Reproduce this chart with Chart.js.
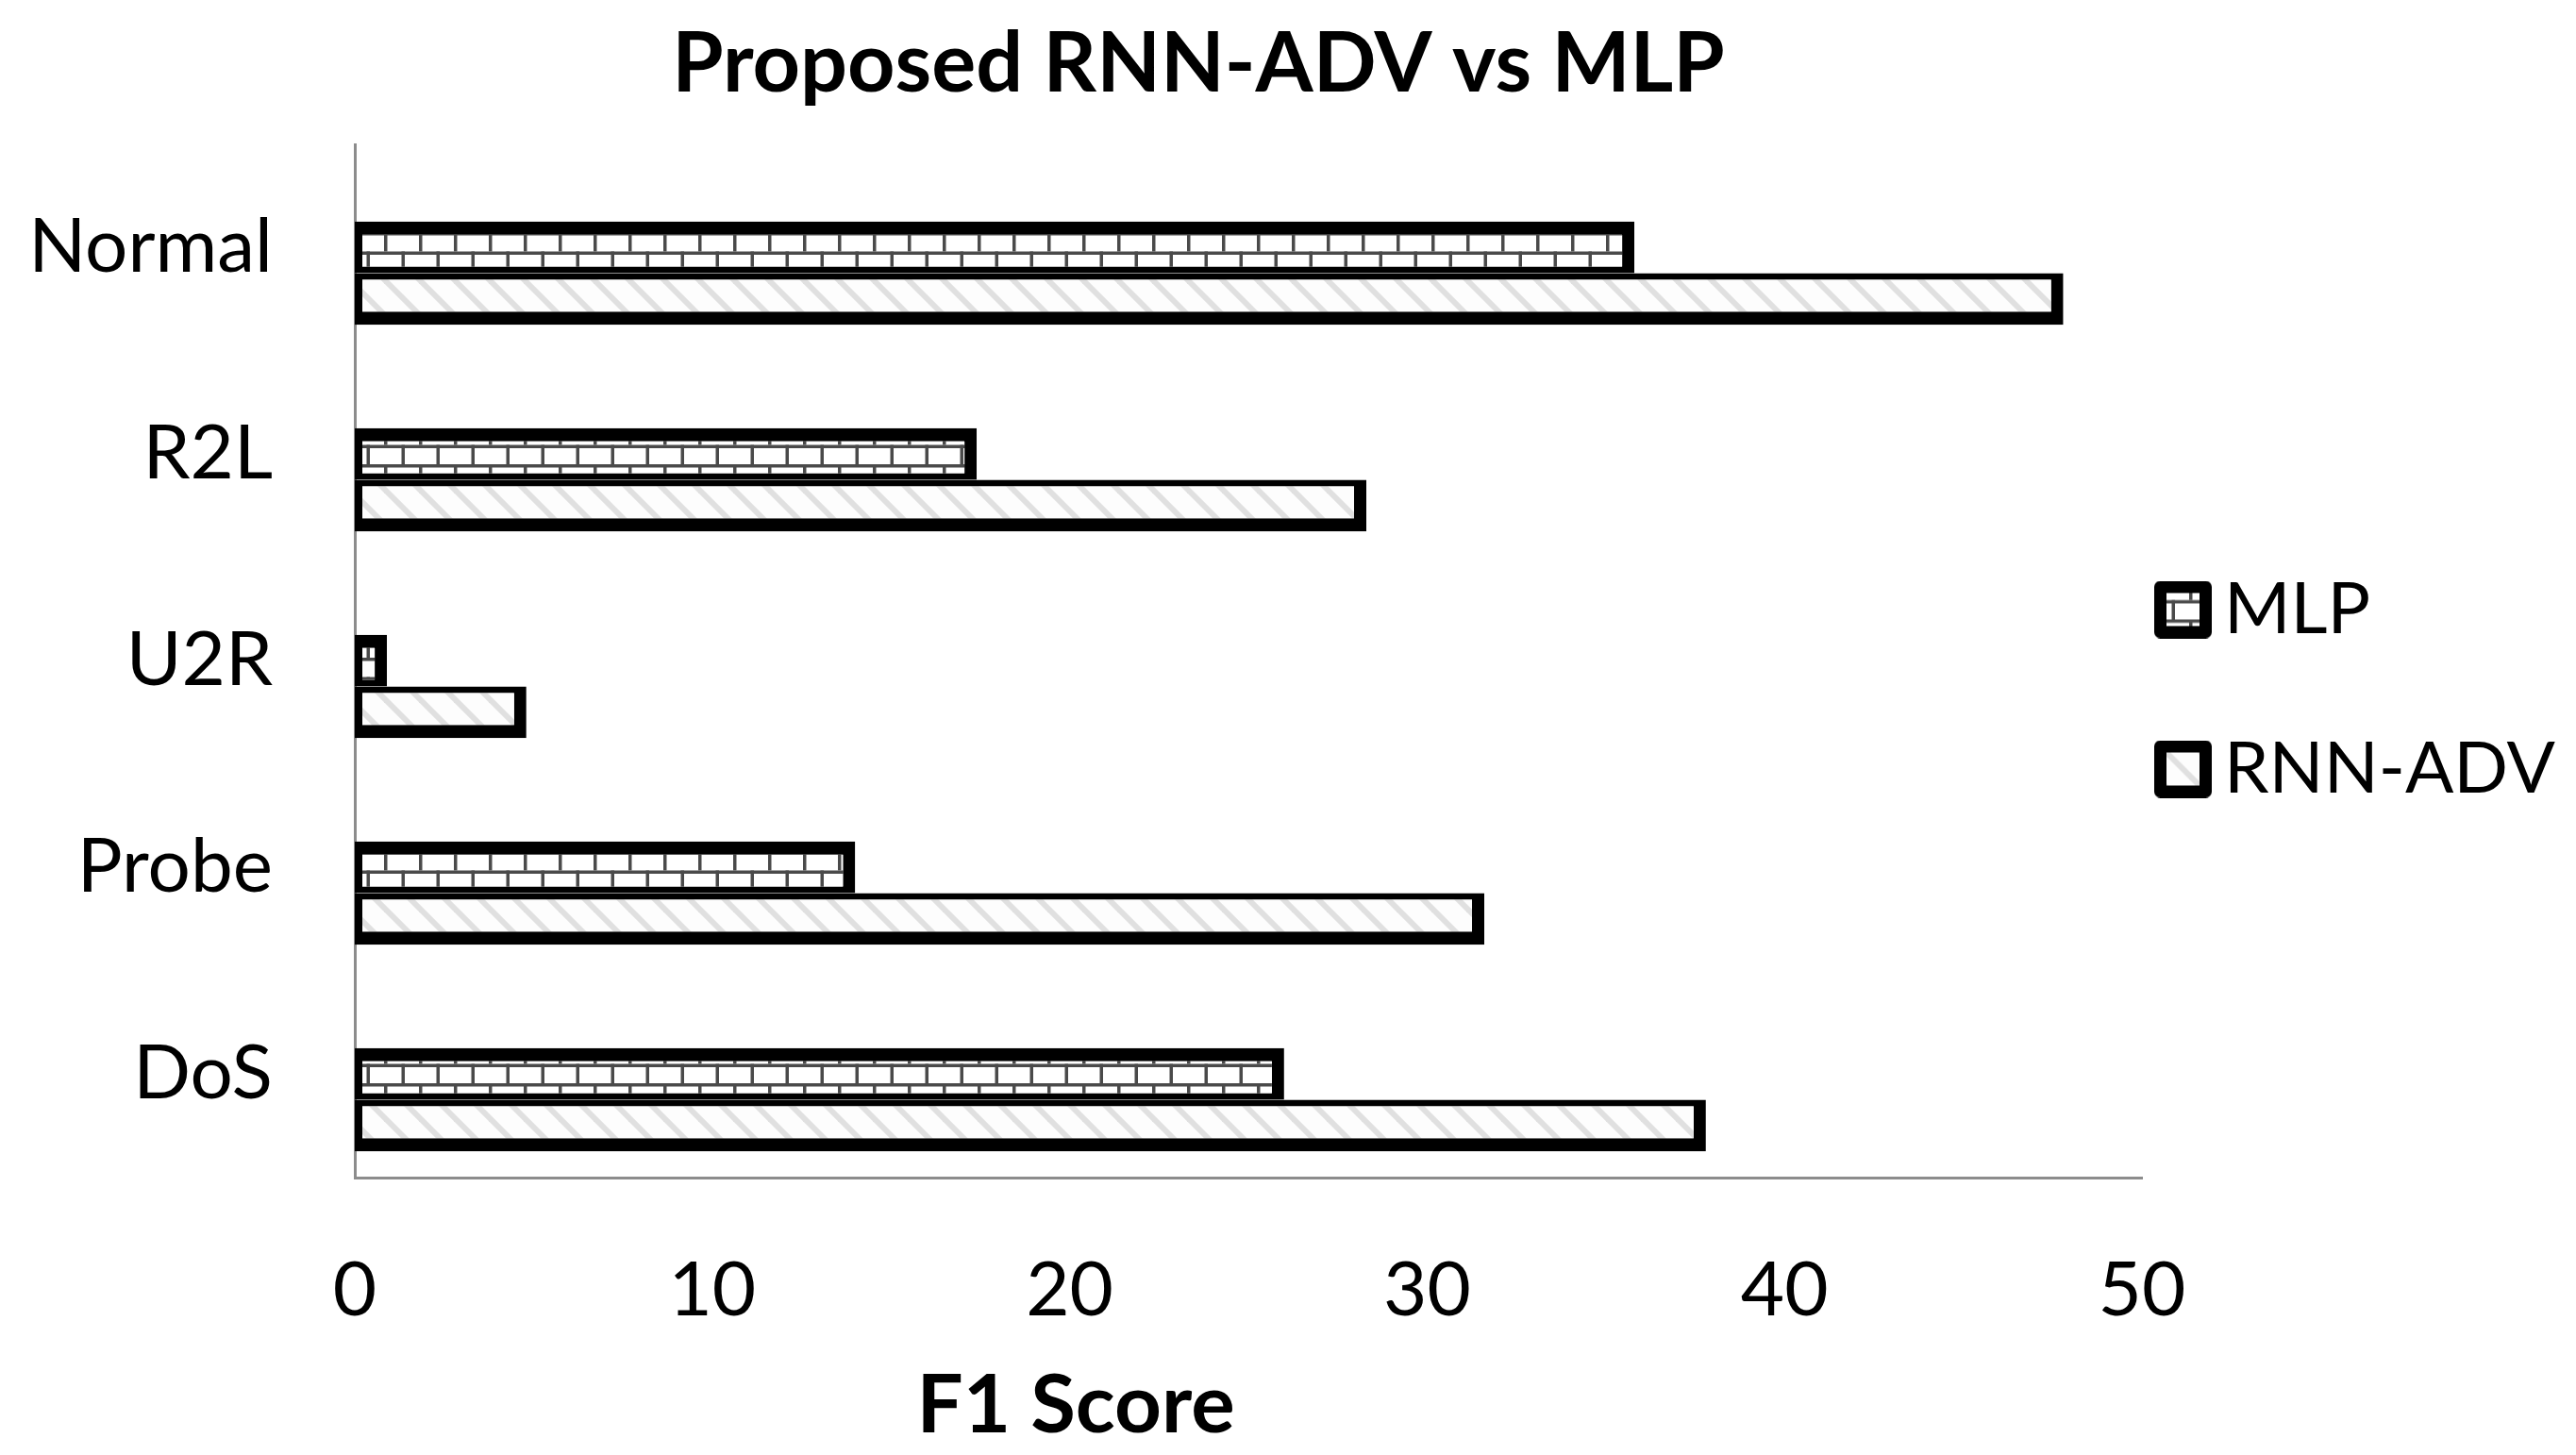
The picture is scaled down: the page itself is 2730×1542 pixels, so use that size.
<!DOCTYPE html>
<html>
<head>
<meta charset="utf-8">
<title>Proposed RNN-ADV vs MLP</title>
<script src="https://cdn.jsdelivr.net/npm/chart.js@4.4.1/dist/chart.umd.min.js"></script>
<style>
  html, body { margin: 0; padding: 0; background: #ffffff; }
  #wrap { width: 2730px; height: 1542px; position: relative; }
  canvas { display: block; }
</style>
</head>
<body>
<div id="wrap"><canvas id="c" width="2730" height="1542"></canvas></div>
<script>
// ---------------- data ----------------
const categories = ['Normal', 'R2L', 'U2R', 'Probe', 'DoS'];
const seriesNames = ['MLP', 'RNN-ADV'];
const mlpValues = [35.8, 17.4, 0.9, 14.0, 26.0];
const rnnAdvValues = [47.8, 28.3, 4.8, 31.6, 37.8];
const xTickValues = [0, 10, 20, 30, 40, 50];
const chartTitle = 'Proposed RNN-ADV vs MLP';
const xAxisTitle = 'F1 Score';

// ---------------- styles ----------------
const FONT = 'Lato';
const AXIS_GRAY = '#8c8c8c';
const BAR_SHIFT = 0.123; // bars sit slightly below the category label centre

function brickPattern(ctx) {
  const t = document.createElement('canvas');
  t.width = 37; t.height = 41;
  const g = t.getContext('2d');
  g.fillStyle = '#ffffff'; g.fillRect(0, 0, 37, 41);
  g.fillStyle = '#4a4a4a';
  g.fillRect(0, 0, 37, 3.5);
  g.fillRect(0, 0, 3.5, 20.5);
  g.fillRect(0, 20.5, 37, 3.5);
  g.fillRect(18.5, 20.5, 3.5, 20.5);
  return ctx.createPattern(t, 'repeat');
}
function stripePattern(ctx) {
  const s = 37;
  const t = document.createElement('canvas');
  t.width = s; t.height = s;
  const g = t.getContext('2d');
  g.fillStyle = '#fdfdfd'; g.fillRect(0, 0, s, s);
  g.strokeStyle = '#e0e0e0'; g.lineWidth = 6;
  [-s, 0, s].forEach(o => {
    g.beginPath(); g.moveTo(o - s, -s); g.lineTo(o + 2 * s, 2 * s); g.stroke();
  });
  return ctx.createPattern(t, 'repeat');
}
function makeSwatch(patFn) {
  const c = document.createElement('canvas');
  c.width = 61; c.height = 61;
  const g = c.getContext('2d');
  g.fillStyle = '#ffffff'; g.fillRect(0, 0, 61, 61);
  g.fillStyle = patFn(g); g.fillRect(6, 6, 49, 49);
  g.lineJoin = 'round';
  g.lineWidth = 13; g.strokeStyle = '#000000';
  g.strokeRect(6.5, 6.5, 48, 48);
  return c;
}

const canvas = document.getElementById('c');
const ctx = canvas.getContext('2d');
const patterns = [brickPattern(ctx), stripePattern(ctx)];
const swatches = [makeSwatch(brickPattern), makeSwatch(stripePattern)];

const titlesPlugin = {
  id: 'titlesPlugin',
  afterDraw(chart) {
    const c = chart.ctx;
    c.save();
    c.fillStyle = '#000000';
    c.textAlign = 'center';
    c.textBaseline = 'alphabetic';
    c.font = 'bold 88px ' + FONT;
    c.fillText(chartTitle, 1270, 97);
    c.font = 'bold 87px ' + FONT;
    c.fillText(xAxisTitle, 1140, 1518);
    c.restore();
  }
};

const legendPlace = {
  id: 'legendPlace',
  afterLayout(chart) {
    const lg = chart.legend;
    if (!lg) return;
    const h = lg.height;
    lg.left = 2215; lg.right = chart.width;
    lg.top = (1461 - h) / 2; lg.bottom = lg.top + h;
  }
};

const borderFor = [
  { top: 14, right: 13, bottom: 7, left: 8 },
  { top: 7, right: 13, bottom: 14, left: 8 }
];

const seriesValues = [mlpValues, rnnAdvValues];

new Chart(ctx, {
  type: 'bar',
  data: {
    labels: categories,
    datasets: seriesNames.map((name, s) => ({
      label: name,
      data: categories.map((c, i) => ({ x: seriesValues[s][i], y: i })),
      xAxisID: 'x',
      yAxisID: 'yb',
      backgroundColor: patterns[s],
      borderColor: '#000000',
      borderWidth: borderFor[s],
      borderSkipped: false,
      categoryPercentage: 0.5,
      barPercentage: 1.0
    }))
  },
  options: {
    indexAxis: 'y',
    responsive: false,
    animation: false,
    devicePixelRatio: 1,
    layout: { padding: { top: 153, left: 0, right: 0, bottom: 0 } },
    scales: {
      x: {
        type: 'linear',
        position: 'bottom',
        min: 0,
        max: 50,
        grid: { display: false },
        border: { display: true, color: AXIS_GRAY, width: 3 },
        ticks: { font: { family: FONT, size: 80 }, color: '#000000', padding: 64 },
        afterBuildTicks: s => { s.ticks = xTickValues.map(v => ({ value: v })); },
        afterFit: s => { s.height = 294; }
      },
      y: {
        type: 'category',
        labels: categories,
        position: 'left',
        offset: true,
        z: 1,
        grid: { display: false },
        border: { display: true, color: AXIS_GRAY, width: 3 },
        ticks: { font: { family: FONT, size: 80 }, color: '#000000', padding: 79 },
        afterFit: s => { s.width = 376; }
      },
      yb: {
        type: 'linear',
        position: 'left',
        display: false,
        reverse: true,
        offset: false,
        min: -0.5 - BAR_SHIFT,
        max: categories.length - 0.5 - BAR_SHIFT,
        afterBuildTicks: s => { s.ticks = categories.map((c, i) => ({ value: i })); }
      }
    },
    plugins: {
      title: { display: false },
      tooltip: { enabled: false },
      legend: {
        display: true,
        position: 'right',
        fullSize: false,
        maxWidth: 460,
        labels: {
          usePointStyle: true,
          boxWidth: 11,
          boxHeight: 76,
          padding: 93,
          color: '#000000',
          font: { family: FONT, size: 76 },
          generateLabels: chart => chart.data.datasets.map((ds, i) => ({
            text: ds.label,
            pointStyle: swatches[i],
            fillStyle: 'rgba(0,0,0,0)',
            strokeStyle: 'rgba(0,0,0,0)',
            lineWidth: 0,
            hidden: false,
            datasetIndex: i,
            fontColor: '#000000'
          }))
        }
      }
    }
  },
  plugins: [titlesPlugin, legendPlace]
});
</script>
</body>
</html>
